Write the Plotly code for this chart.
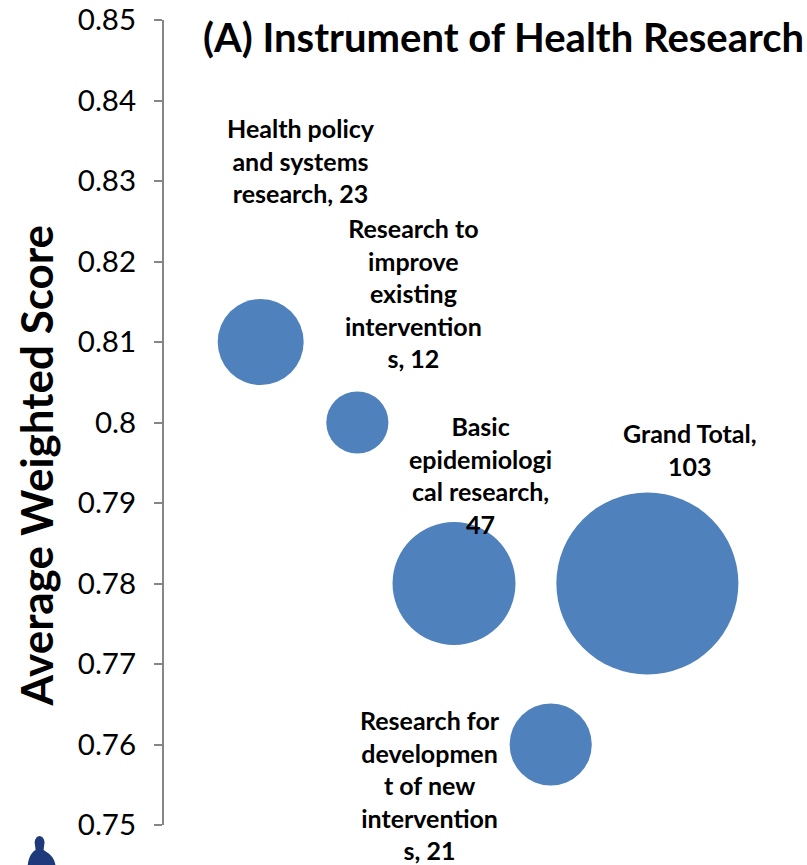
import plotly.graph_objects as go

positions = [1, 2, 3, 4, 5]
scores = [0.81, 0.80, 0.78, 0.76, 0.78]
counts = [23, 12, 47, 21, 103]
labels = ["Health policy<br>and systems<br>research, 23",
          "Research to<br>improve<br>existing<br>intervention<br>s, 12",
          "Basic<br>epidemiologi<br>cal research,<br>47",
          "Research for<br>developmen<br>t of new<br>intervention<br>s, 21",
          "Grand Total,<br>103"]
label_shift = [(40, 182), (56, 130), (26, 109), (-121, -40), (43, 134)]
tick_vals = [0.75, 0.76, 0.77, 0.78, 0.79, 0.80, 0.81, 0.82, 0.83, 0.84, 0.85]
tick_text = ["0.75", "0.76", "0.77", "0.78", "0.79", "0.8", "0.81", "0.82", "0.83", "0.84", "0.85"]

W, H = 807, 865
L, T, B = 163.5, 20, 40
FONT = "Lato, Carlito, Calibri, sans-serif"

fig = go.Figure(go.Scatter(
    x=positions, y=scores, mode="markers", hoverinfo="skip",
    marker=dict(size=counts, sizemode="area", sizeref=2 * 103 / 182**2,
                color="#4F81BD", line=dict(width=0), opacity=1),
))

for x, y, t, (dx, dy) in zip(positions, scores, labels, label_shift):
    fig.add_annotation(x=x, y=y, text=f"<b>{t}</b>", showarrow=False, xshift=dx, yshift=dy,
                       xanchor="center", yanchor="middle", align="center",
                       font=dict(family=FONT, size=25, color="black"))

px = lambda v: (v - L) / (W - L)
py = lambda v: 1 - (v - T) / (H - T - B)

fig.add_annotation(xref="paper", yref="paper", x=px(503), y=py(37),
                   text="<b>(A) Instrument of Health Research</b>", showarrow=False,
                   xanchor="center", yanchor="middle", font=dict(family=FONT, size=40, color="black"))
fig.add_annotation(xref="paper", yref="paper", x=px(35), y=py(466),
                   text="<b>Average Weighted Score</b>", showarrow=False, textangle=-90,
                   xanchor="center", yanchor="middle", font=dict(family=FONT, size=44, color="black"))

# small silhouette cropped by the bottom edge of the picture
fig.add_shape(type="path", xref="paper", yref="paper", line_width=0, fillcolor="#1F3A7A", layer="above",
              path=(f"M {px(27)} {py(866)} C {px(28)} {py(855)} {px(33)} {py(851)} {px(35)} {py(850)} "
                    f"L {px(34)} {py(842)} C {px(35)} {py(834)} {px(43)} {py(834)} {px(44)} {py(842)} "
                    f"L {px(43)} {py(850)} C {px(48)} {py(853)} {px(54)} {py(857)} {px(55)} {py(866)} Z"))

fig.update_layout(
    width=W, height=H, autosize=False, showlegend=False,
    paper_bgcolor="white", plot_bgcolor="white",
    margin=dict(l=L, r=0, t=T, b=B, pad=0),
    xaxis=dict(range=[0, (W - L) / 96.75], visible=False),
    yaxis=dict(range=[0.75, 0.85], tickmode="array", tickvals=tick_vals, ticktext=tick_text,
               showgrid=False, zeroline=False, showline=True, linecolor="#868686", linewidth=2,
               ticks="outside", ticklen=8, tickwidth=2, tickcolor="#868686", ticklabelstandoff=12,
               tickfont=dict(family=FONT, size=29.5, color="black")),
)
fig.write_html("out.html", config={"displayModeBar": False},
               post_script="document.body.style.margin='0';document.documentElement.style.overflow='hidden';")
